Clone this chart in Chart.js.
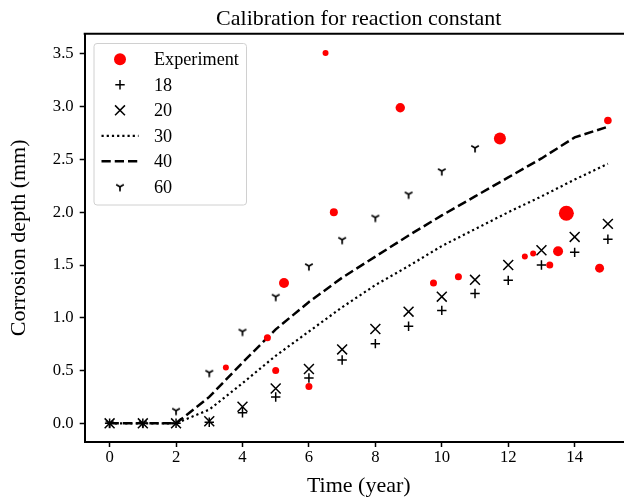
<!DOCTYPE html>
<html>
<head>
<meta charset="utf-8">
<script src="https://cdn.jsdelivr.net/npm/chart.js@4.4.1/dist/chart.umd.min.js"></script>
<style>
  html, body { margin: 0; padding: 0; background: #fff; overflow: hidden; }
  #wrap { width: 634px; height: 502px; }
</style>
</head>
<body>
<div id="wrap"><canvas id="chart" width="634" height="502"></canvas></div>
<script>
// model years
const years = [0, 1, 2, 3, 4, 5, 6, 7, 8, 9, 10, 11, 12, 13, 14, 15];

// model curves, one per reaction constant
const model18 = [0, 0, 0, 0.01, 0.10, 0.25, 0.43, 0.60, 0.755, 0.92, 1.07, 1.23, 1.355, 1.50, 1.62, 1.744];
const model20 = [0, 0, 0, 0.02, 0.157, 0.33, 0.515, 0.70, 0.894, 1.058, 1.20, 1.36, 1.50, 1.64, 1.766, 1.89];
const model30 = [0, 0, 0, 0.13, 0.38, 0.64, 0.87, 1.10, 1.31, 1.49, 1.68, 1.84, 2.00, 2.15, 2.31, 2.46];
const model40 = [0, 0, 0, 0.25, 0.575, 0.89, 1.15, 1.38, 1.58, 1.78, 1.97, 2.15, 2.33, 2.51, 2.71, 2.81];
const years60 = [0, 1, 2, 3, 4, 5, 6, 7, 8, 9, 10, 11];
const model60 = [0, 0, 0.12, 0.48, 0.87, 1.20, 1.49, 1.74, 1.95, 2.17, 2.39, 2.61];

// measured corrosion depth
const expYears = [3.5, 4.75, 5.0, 5.25, 6.0, 6.5, 6.75, 8.75, 9.75, 10.5, 11.75, 12.5, 12.75, 13.25, 13.5, 13.75, 14.75, 15.0];
const expDepth = [0.53, 0.81, 0.50, 1.33, 0.35, 3.51, 2.00, 2.99, 1.33, 1.39, 2.70, 1.58, 1.61, 1.50, 1.63, 1.99, 1.47, 2.87];
// marker radius for each measurement (px)
const expRadius = [3, 3.5, 3.5, 5, 3.5, 3, 4, 4.7, 3.5, 3.5, 6, 3, 3, 3.5, 5, 7.5, 4.5, 3.8];

const xTicks = [0, 2, 4, 6, 8, 10, 12, 14];
const yTicks = [0, 0.5, 1.0, 1.5, 2.0, 2.5, 3.0, 3.5];

const SERIF = "'Liberation Serif', 'Times New Roman', serif";

function pts(xs, ys) {
  return xs.map((x, i) => ({ x: x, y: ys[i] }));
}

// matplotlib style tri_down marker ("Y")
function triDown(size, lw) {
  const c = document.createElement('canvas');
  c.width = 12; c.height = 12;
  const g = c.getContext('2d');
  const cx = 6, cy = 6;
  g.strokeStyle = '#000';
  g.lineWidth = lw;
  g.beginPath();
  g.moveTo(cx, cy); g.lineTo(cx, cy + size);
  g.moveTo(cx, cy); g.lineTo(cx - size * 0.866, cy - size * 0.5);
  g.moveTo(cx, cy); g.lineTo(cx + size * 0.866, cy - size * 0.5);
  g.stroke();
  return c;
}
const triMarker = triDown(4.4, 1.7);

// top spine (right spine falls outside the picture)
const frame = {
  id: 'frame',
  afterDraw(chart) {
    const a = chart.chartArea, ctx = chart.ctx;
    ctx.save();
    ctx.strokeStyle = '#000';
    ctx.lineWidth = 2;
    ctx.beginPath();
    ctx.moveTo(a.left - 1, a.top);
    ctx.lineTo(a.right, a.top);
    ctx.stroke();
    ctx.restore();
  }
};

// legend box drawn inside the axes, upper left
const boxLegend = {
  id: 'boxLegend',
  afterDraw(chart) {
    const ctx = chart.ctx;
    const x0 = 94, y0 = 43.5, w = 152.5, h = 161.5;
    ctx.save();
    ctx.fillStyle = 'rgba(255,255,255,0.8)';
    ctx.strokeStyle = '#d0d0d0';
    ctx.lineWidth = 1;
    ctx.beginPath();
    ctx.roundRect(x0, y0, w, h, 3);
    ctx.fill();
    ctx.stroke();

    const mx = 120, tx = 154, rowY = 59.3, step = 25.5;
    chart.data.datasets.forEach((ds, i) => {
      const y = rowY + i * step;
      ctx.save();
      ctx.strokeStyle = '#000';
      ctx.fillStyle = '#000';
      if (ds.showLine) {
        ctx.lineWidth = ds.borderWidth;
        ctx.setLineDash(ds.borderDash || []);
        ctx.beginPath();
        ctx.moveTo(101.5, y);
        ctx.lineTo(138.5, y);
        ctx.stroke();
      } else if (ds.pointStyle === 'circle') {
        ctx.fillStyle = ds.backgroundColor;
        ctx.beginPath();
        ctx.arc(mx, y, 6, 0, Math.PI * 2);
        ctx.fill();
      } else if (ds.pointStyle === 'cross') {
        ctx.lineWidth = ds.borderWidth;
        ctx.beginPath();
        ctx.moveTo(mx - ds.pointRadius, y); ctx.lineTo(mx + ds.pointRadius, y);
        ctx.moveTo(mx, y - ds.pointRadius); ctx.lineTo(mx, y + ds.pointRadius);
        ctx.stroke();
      } else if (ds.pointStyle === 'crossRot') {
        const d = ds.pointRadius * Math.SQRT1_2;
        ctx.lineWidth = ds.borderWidth;
        ctx.beginPath();
        ctx.moveTo(mx - d, y - d); ctx.lineTo(mx + d, y + d);
        ctx.moveTo(mx - d, y + d); ctx.lineTo(mx + d, y - d);
        ctx.stroke();
      } else {
        ctx.drawImage(ds.pointStyle, mx - 6, y - 6);
      }
      ctx.font = '18.2px ' + SERIF;
      ctx.fillStyle = '#000';
      ctx.textBaseline = 'middle';
      ctx.textAlign = 'left';
      ctx.fillText(ds.label, tx, y + 1);
      ctx.restore();
    });
    ctx.restore();
  }
};

const tickFont = { family: SERIF, size: 16.7, weight: 'normal' };
const titleFont = { family: SERIF, size: 22, weight: 'normal' };

new Chart(document.getElementById('chart'), {
  type: 'scatter',
  data: {
    datasets: [
      {
        label: 'Experiment',
        data: pts(expYears, expDepth),
        pointStyle: 'circle',
        backgroundColor: '#ff0000',
        borderColor: '#ff0000',
        borderWidth: 0,
        pointRadius: expRadius
      },
      {
        label: '18',
        data: pts(years, model18),
        pointStyle: 'cross',
        pointRadius: 4.7,
        borderColor: '#000',
        borderWidth: 1.5
      },
      {
        label: '20',
        data: pts(years, model20),
        pointStyle: 'crossRot',
        pointRadius: 7,
        borderColor: '#000',
        borderWidth: 1.5
      },
      {
        label: '30',
        data: pts(years, model30),
        showLine: true,
        pointRadius: 0,
        borderColor: '#000',
        borderWidth: 2.2,
        borderDash: [2.2, 3.0]
      },
      {
        label: '40',
        data: pts(years, model40),
        showLine: true,
        pointRadius: 0,
        borderColor: '#000',
        borderWidth: 2.5,
        borderDash: [9.25, 4]
      },
      {
        label: '60',
        data: pts(years60, model60),
        pointStyle: triMarker,
        pointRadius: 5,
        borderColor: '#000'
      }
    ]
  },
  options: {
    responsive: false,
    animation: false,
    events: [],
    layout: { autoPadding: false, padding: { left: 0, right: 1.2, top: 0, bottom: 0 } },
    plugins: {
      legend: { display: false },
      tooltip: { enabled: false },
      title: {
        display: true,
        fullSize: false,
        text: 'Calibration for reaction constant',
        color: '#000',
        font: titleFont,
        padding: { top: 5.6, bottom: 1.7 }
      }
    },
    scales: {
      x: {
        type: 'linear',
        min: -0.75,
        max: 15.75,
        afterFit: (s) => { s.height = 60; s.paddingLeft = 0; s.paddingRight = 0; },
        afterBuildTicks: (s) => { s.ticks = xTicks.map(v => ({ value: v })); },
        ticks: {
          color: '#000',
          font: tickFont,
          padding: 1,
          maxRotation: 0,
          autoSkip: false,
          callback: (v) => String(v)
        },
        grid: { drawOnChartArea: false, drawTicks: true, tickLength: 5, tickWidth: 1.5, tickColor: '#000' },
        border: { display: true, color: '#000', width: 2 },
        title: { display: true, text: 'Time (year)', color: '#000', font: titleFont, padding: { top: 0, bottom: 2.2 } }
      },
      y: {
        type: 'linear',
        min: -0.177,
        max: 3.692,
        afterFit: (s) => { s.width = 84.7; s.paddingTop = 0; s.paddingBottom = 0; },
        afterBuildTicks: (s) => { s.ticks = yTicks.map(v => ({ value: v })); },
        ticks: {
          color: '#000',
          font: tickFont,
          padding: 6,
          autoSkip: false,
          callback: (v) => v.toFixed(1)
        },
        grid: { drawOnChartArea: false, drawTicks: true, tickLength: 5, tickWidth: 1.5, tickColor: '#000' },
        border: { display: true, color: '#000', width: 2 },
        title: { display: true, text: 'Corrosion depth (mm)', color: '#000', font: titleFont, padding: { top: 6, bottom: 0 } }
      }
    }
  },
  plugins: [frame, boxLegend]
});
</script>
</body>
</html>
